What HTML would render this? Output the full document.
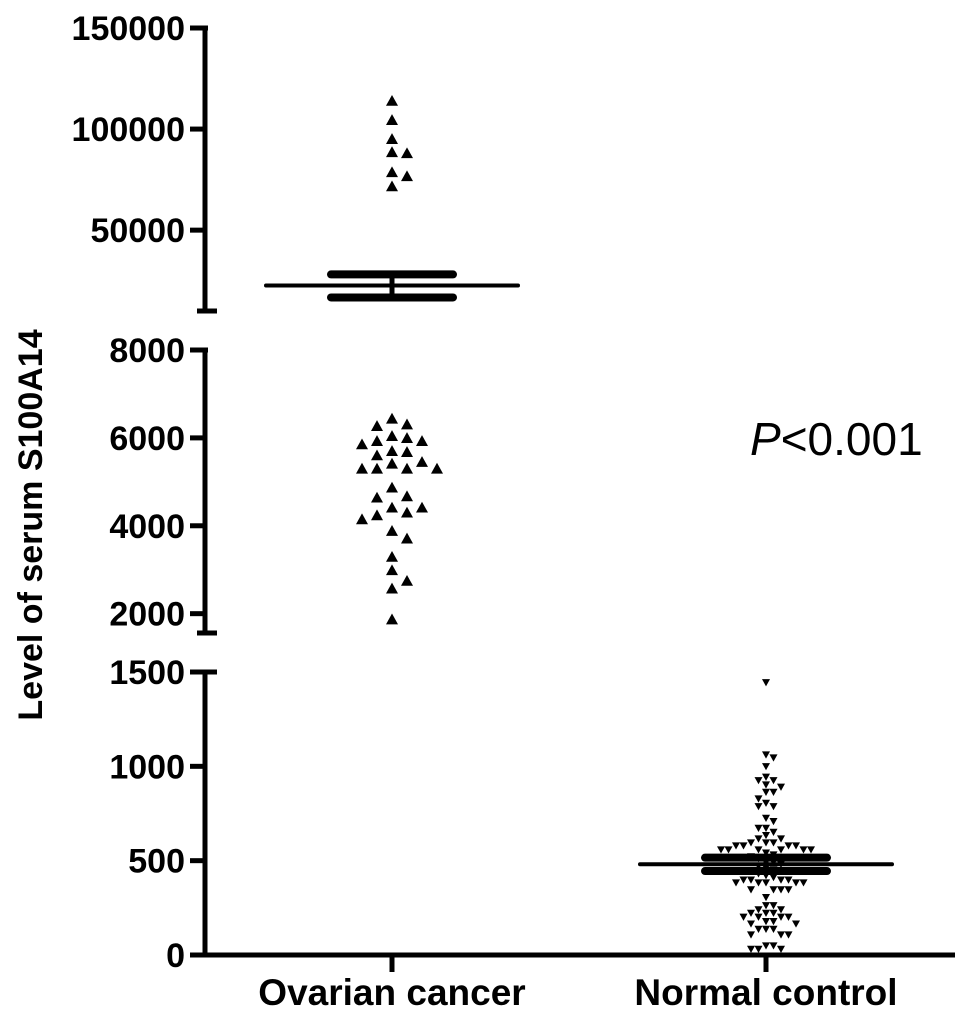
<!DOCTYPE html>
<html><head><meta charset="utf-8"><style>
html,body{margin:0;padding:0;background:#fff;}
svg{display:block;font-family:"Liberation Sans",Arial,sans-serif;}
</style></head><body>
<svg id="chart" width="969" height="1018" viewBox="0 0 969 1018" xmlns="http://www.w3.org/2000/svg"></svg>
<script>
const categories = ["Ovarian cancer", "Normal control"];
const ovarianValues = [114200,104700,95300,88800,88300,78900,76900,71900,
 6448,6318,6280,6007,5939,6053,5864,5939,5712,5689,5614,5424,5311,5311,5311,5311,5462,
 4879,4682,4652,4424,4424,4311,4250,4159,3894,3720,3303,3000,2757,2583,1880];
const normalValues = [1443,1060,1044,998,942,924,924,901,889,862,862,827,804,786,786,724,707,
 671,671,650,633,615,615,594,594,594,578,578,578,578,557,557,557,557,557,557,
 540,530,520,510,500,490,480,470,460,450,430,420,410,397,397,397,397,382,382,382,382,382,
 345,345,345,345,304,261,261,239,239,221,221,221,200,200,200,200,177,177,164,164,136,136,136,106,106,106,48,48,30,30,30];
const meanValues = [22600, 481];
const semHigh = [28100, 516];
const semLow = [16700, 445];
const ticksTop = [50000,100000,150000];
const ticksMid = [2000,4000,6000,8000];
const ticksBot = [0,500,1000,1500];
const tickLabels = {50000:"50000",100000:"100000",150000:"150000",2000:"2000",4000:"4000",6000:"6000",8000:"8000",0:"0",500:"500",1000:"1000",1500:"1500"};

const NS="http://www.w3.org/2000/svg";
const svg=document.getElementById('chart');
function mk(tag,attrs,parent){const e=document.createElementNS(NS,tag);for(const k in attrs)e.setAttribute(k,attrs[k]);(parent||svg).appendChild(e);return e;}

const AX=205;
const segs=[{lo:10000,hi:150000,y0:311,y1:28},{lo:1560,hi:8000,y0:633,y1:350},{lo:0,hi:1500,y0:955,y1:672}];
function yScale(v){let s;if(v>=10000)s=segs[0];else if(v>1500)s=segs[1];else s=segs[2];
 return s.y0-(v-s.lo)/(s.hi-s.lo)*(s.y0-s.y1);}
function xScale(i){return [392,766][i];}

const axes=mk('g',{});

segs.forEach((s,i)=>{const l=mk('line',{x1:AX,x2:AX,y1:s.y1,y2:s.y0,stroke:'#000','stroke-width':5},axes);
 });
[[311,197,217],[633,197,217],[350,190,208],[672,190,217],[28,190,208]].forEach(c=>{
 const l=mk('line',{x1:c[1],x2:c[2],y1:c[0],y2:c[0],stroke:'#000','stroke-width':5},axes);
 });
ticksTop.concat(ticksMid,ticksBot).forEach(v=>{const y=yScale(v);
 const t=mk('line',{x1:190,x2:AX,y1:y,y2:y,stroke:'#000','stroke-width':5},axes);
 
 const tx=mk('text',{x:185,y:y+12,'text-anchor':'end','font-size':34,'font-weight':'bold'},axes);
 tx.textContent=tickLabels[v];});
const xa=mk('line',{x1:AX-2,x2:955,y1:955,y2:955,stroke:'#000','stroke-width':5});

categories.forEach((c,i)=>{const x=xScale(i);
 const t=mk('line',{x1:x,x2:x,y1:955,y2:972,stroke:'#000','stroke-width':5});
 
 const tx=mk('text',{x:x,y:1005,'text-anchor':'middle','font-size':37,'font-weight':'bold'});
 tx.textContent=c;});
const yt=mk('text',{x:0,y:0,'text-anchor':'middle','font-size':34,'font-weight':'bold',transform:'translate(42,525) rotate(-90)'});
yt.textContent='Level of serum S100A14';
const pv=mk('text',{x:750,y:455,'font-size':46});

const pi=mk('tspan',{'font-style':'italic'},pv);pi.textContent='P';
const pr=mk('tspan',{},pv);pr.textContent='<0.001';

function swarm(vals,cx,dx,dy,cls,up,size){
 const placed=[];const g=mk('g',{});
 
 const order=vals.map((v,i)=>i).sort((a,b)=>vals[b]-vals[a]);
 order.forEach(i=>{const y=yScale(vals[i]);
  const cands=[0];for(let k=1;k<12;k++){cands.push(k*dx,-k*dx);}
  let x=cx;for(const o of cands){const px=cx+o;
   if(!placed.some(p=>Math.abs(p[0]-px)<dx*0.9&&Math.abs(p[1]-y)<dy)){x=px;break;}}
  placed.push([x,y]);
  const h=size*0.9,w=size/2;
  const pts=up?`${x},${y-h/2} ${x-w},${y+h/2} ${x+w},${y+h/2}`:`${x},${y+h/2} ${x-w},${y-h/2} ${x+w},${y-h/2}`;
  const p=mk('polygon',{points:pts,fill:'#000'},g);
  
 });
}
swarm(ovarianValues,xScale(0),15,12,'ovarian-points',true,12);
swarm(normalValues,xScale(1),7.5,7,'normal-points',false,8);

[0,1].forEach(i=>{const x=xScale(i);const g=mk('g',{});
 
 const ym=yScale(meanValues[i]),yh=yScale(semHigh[i]),yl=yScale(semLow[i]);
 const m=mk('line',{x1:x-126,x2:x+126,y1:ym,y2:ym,stroke:'#000','stroke-width':4,'stroke-linecap':'round'},g);
 
 const v=mk('line',{x1:x,x2:x,y1:yh,y2:yl,stroke:'#000','stroke-width':5},g);
 
 [yh,yl].forEach(y=>{const b=mk('line',{x1:x-61,x2:x+61,y1:y,y2:y,stroke:'#000','stroke-width':8,'stroke-linecap':'round'},g);
  });
});
</script>
</body></html>
